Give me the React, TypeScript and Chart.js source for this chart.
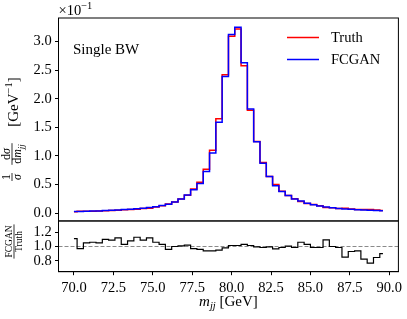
import React, { useEffect, useRef } from "react";
import { Chart, registerables } from "chart.js";
Chart.register(...registerables);

// ---- data ----
const massBins = [
  70.0, 70.4, 70.8, 71.2, 71.6, 72.0, 72.4, 72.8, 73.2, 73.6,
  74.0, 74.4, 74.8, 75.2, 75.6, 76.0, 76.4, 76.8, 77.2, 77.6,
  78.0, 78.4, 78.8, 79.2, 79.6, 80.0, 80.4, 80.8, 81.2, 81.6,
  82.0, 82.4, 82.8, 83.2, 83.6, 84.0, 84.4, 84.8, 85.2, 85.6,
  86.0, 86.4, 86.8, 87.2, 87.6, 88.0, 88.4, 88.8, 89.2, 89.6,
];
// values in units of 1e-1 GeV^-1
const truthDensity = [
  0.027, 0.033, 0.033, 0.036, 0.039, 0.042, 0.047, 0.051, 0.061, 0.065,
  0.071, 0.081, 0.088, 0.108, 0.129, 0.161, 0.195, 0.248, 0.314, 0.423,
  0.542, 0.770, 1.100, 1.650, 2.420, 3.090, 3.220, 2.575, 1.800, 1.255,
  0.886, 0.643, 0.500, 0.385, 0.308, 0.254, 0.203, 0.170, 0.152, 0.130,
  0.101, 0.095, 0.083, 0.085, 0.073, 0.066, 0.067, 0.065, 0.056, 0.049,
];
const fcganDensity = [
  0.030, 0.032, 0.035, 0.038, 0.041, 0.046, 0.051, 0.057, 0.063, 0.070,
  0.080, 0.088, 0.099, 0.115, 0.133, 0.155, 0.195, 0.250, 0.320, 0.410,
  0.520, 0.730, 1.050, 1.590, 2.390, 3.120, 3.250, 2.630, 1.820, 1.250,
  0.874, 0.640, 0.480, 0.380, 0.310, 0.250, 0.215, 0.175, 0.150, 0.128,
  0.110, 0.095, 0.082, 0.072, 0.068, 0.062, 0.055, 0.050, 0.047, 0.044,
];
const ratioValues = [
  1.11, 0.97, 1.05, 1.06, 1.05, 1.10, 1.09, 1.12, 1.03, 1.08,
  1.13, 1.09, 1.12, 1.06, 1.03, 0.96, 1.00, 1.01, 1.02, 0.97,
  0.96, 0.94, 0.94, 0.95, 0.98, 1.014, 1.014, 1.03, 1.014, 0.995,
  0.986, 0.995, 0.967, 0.986, 1.005, 0.986, 1.06, 1.03, 0.986, 0.986,
  1.093, 1.0, 0.986, 0.85, 0.93, 0.94, 0.823, 0.767, 0.846, 0.90,
];
const densityTicks = [0, 0.5, 1.0, 1.5, 2.0, 2.5, 3.0];
const ratioTicks = [0.8, 1.0, 1.2];
const massTicks = [70, 72.5, 75, 77.5, 80, 82.5, 85, 87.5, 90];
const legendLabels = ["Truth", "FCGAN"];
const seriesColors = ["#ff0000", "#0000ff"];
const panelText = "Single BW";

const X_MIN = 69.02;
const X_MAX = 90.58;
const W = 407;
const H = 319;
const SERIF = '"Liberation Serif", "DejaVu Serif", serif';
const TICK_FONT = 14.5;

type Run = { t: string; size: number; italic?: boolean; dy?: number };

function runFont(r: Run) {
  return `${r.italic ? "italic " : ""}${r.size}px ${SERIF}`;
}
function measureRuns(ctx: CanvasRenderingContext2D, runs: Run[]) {
  let w = 0;
  for (const r of runs) {
    ctx.font = runFont(r);
    w += ctx.measureText(r.t).width;
  }
  return w;
}
function drawRuns(ctx: CanvasRenderingContext2D, runs: Run[], x: number, y: number) {
  let cx = x;
  for (const r of runs) {
    ctx.font = runFont(r);
    ctx.fillText(r.t, cx, y + (r.dy || 0));
    cx += ctx.measureText(r.t).width;
  }
  return cx - x;
}
function drawFraction(
  ctx: CanvasRenderingContext2D,
  num: Run[],
  den: Run[],
  cx: number,
  barY: number,
  numGap: number,
  denGap: number
) {
  const wn = measureRuns(ctx, num);
  const wd = measureRuns(ctx, den);
  const w = Math.max(wn, wd) + 2;
  drawRuns(ctx, num, cx - wn / 2, barY - numGap);
  drawRuns(ctx, den, cx - wd / 2, barY + denGap);
  ctx.fillRect(cx - w / 2, barY - 0.4, w, 0.8);
}

const decorPlugin = {
  id: "decor",
  afterDraw(chart: any) {
    const ctx: CanvasRenderingContext2D = chart.ctx;
    const { left, right } = chart.chartArea;
    const yh = chart.scales.yh;
    const yr = chart.scales.yr;
    ctx.save();
    ctx.strokeStyle = "#000";
    ctx.lineWidth = 1;
    ctx.strokeRect(left, yh.top, right - left, yh.bottom - yh.top);
    ctx.strokeRect(left, yr.top, right - left, yr.bottom - yr.top);

    ctx.fillStyle = "#000";
    ctx.textAlign = "left";
    ctx.textBaseline = "alphabetic";

    // offset text
    drawRuns(ctx, [{ t: "×10", size: 14.5 }, { t: "−1", size: 10.5, dy: -6 }], left, 15);

    // panel text
    ctx.font = `15px ${SERIF}`;
    ctx.fillText(panelText, 73, 54);

    // legend
    const legY = [37.5, 59.5];
    for (let i = 0; i < 2; i++) {
      ctx.strokeStyle = seriesColors[i];
      ctx.lineWidth = 1.5;
      ctx.beginPath();
      ctx.moveTo(287, legY[i]);
      ctx.lineTo(319, legY[i]);
      ctx.stroke();
      ctx.font = `14.5px ${SERIF}`;
      ctx.textBaseline = "middle";
      ctx.fillText(legendLabels[i], 331, legY[i] + 0.5);
    }
    ctx.textBaseline = "alphabetic";

    // x title
    const xRuns: Run[] = [
      { t: "m", size: 15, italic: true },
      { t: "jj", size: 10.5, italic: true, dy: 3 },
      { t: " [GeV]", size: 15 },
    ];
    const xw = measureRuns(ctx, xRuns);
    drawRuns(ctx, xRuns, (left + right) / 2 - xw / 2, 306);

    // y title (top panel), rotated
    ctx.save();
    ctx.translate(12, 0);
    ctx.rotate(-Math.PI / 2);
    // (x', y') -> screen (12 + y', -x')
    drawFraction(ctx, [{ t: "1", size: 12 }], [{ t: "σ", size: 12, italic: true }], -177, 0, 2.5, 9);
    drawFraction(
      ctx,
      [{ t: "d", size: 12 }, { t: "σ", size: 12, italic: true }],
      [{ t: "d", size: 12 }, { t: "m", size: 12, italic: true }, { t: "jj", size: 9, italic: true, dy: 2.5 }],
      -154,
      0,
      2.5,
      9
    );
    const gRuns: Run[] = [
      { t: "[GeV", size: 15 },
      { t: "−1", size: 10.5, dy: -6 },
      { t: "]", size: 15 },
    ];
    const gw = measureRuns(ctx, gRuns);
    drawRuns(ctx, gRuns, -102 - gw / 2, 5.5);
    ctx.restore();

    // y title (ratio panel)
    ctx.save();
    ctx.translate(14, 0);
    ctx.rotate(-Math.PI / 2);
    drawFraction(ctx, [{ t: "FCGAN", size: 9.5 }], [{ t: "Truth", size: 9.5 }], -241.5, 0, 2, 8);
    ctx.restore();

    ctx.restore();
  },
};

const tickCommon = (size: number) => ({
  color: "#000",
  font: { family: SERIF, size },
  autoSkip: false,
});

export default function App() {
  const ref = useRef<HTMLCanvasElement | null>(null);
  useEffect(() => {
    if (!ref.current) return;
    const pts = (ys: number[]) => massBins.map((x, i) => ({ x, y: ys[i] }));
    const chart = new Chart(ref.current, {
      type: "line",
      data: {
        datasets: [
          {
            label: legendLabels[1],
            data: pts(fcganDensity),
            yAxisID: "yh",
            borderColor: seriesColors[1],
            borderWidth: 1.5,
            stepped: "middle",
            pointRadius: 0,
            fill: false,
            order: 0,
          },
          {
            label: legendLabels[0],
            data: pts(truthDensity),
            yAxisID: "yh",
            borderColor: seriesColors[0],
            borderWidth: 1.5,
            stepped: "middle",
            pointRadius: 0,
            fill: false,
            order: 1,
          },
          {
            label: "ratio",
            data: pts(ratioValues),
            yAxisID: "yr",
            borderColor: "#000",
            borderWidth: 1.2,
            stepped: "middle",
            pointRadius: 0,
            fill: false,
            order: 2,
          },
          {
            label: "unity",
            data: [
              { x: X_MIN, y: 1 },
              { x: X_MAX, y: 1 },
            ],
            yAxisID: "yr",
            borderColor: "#8a8a8a",
            borderWidth: 1,
            borderDash: [4, 2],
            pointRadius: 0,
            fill: false,
            order: 3,
          },
        ],
      } as any,
      options: {
        responsive: false,
        animation: false,
        events: [],
        layout: { padding: { left: 0, right: 8.6, top: 18, bottom: 0 } },
        plugins: { legend: { display: false }, tooltip: { enabled: false } },
        scales: {
          x: {
            type: "linear",
            position: "bottom",
            min: X_MIN,
            max: X_MAX,
            afterBuildTicks: (s: any) => {
              s.ticks = massTicks.map((v) => ({ value: v }));
            },
            afterFit: (s: any) => {
              s.height = 47.3;
            },
            ticks: {
              ...tickCommon(TICK_FONT),
              padding: 4,
              maxRotation: 0,
              callback: (v: any) => Number(v).toFixed(1),
            },
            grid: { drawOnChartArea: false, drawTicks: true, tickLength: 3.5, color: "#000" },
            border: { display: true, color: "#000", width: 1 },
          },
          yr: {
            type: "linear",
            position: "left",
            stack: "panels",
            stackWeight: 1,
            min: 0.647,
            max: 1.358,
            afterBuildTicks: (s: any) => {
              s.ticks = ratioTicks.map((v) => ({ value: v }));
            },
            afterFit: (s: any) => {
              s.width = 58.5;
            },
            ticks: {
              ...tickCommon(TICK_FONT),
              padding: 3.3,
              callback: (v: any) => Number(v).toFixed(1),
            },
            grid: { drawOnChartArea: false, drawTicks: true, tickLength: 3.5, color: "#000" },
            border: { display: true, color: "#000", width: 1 },
          },
          yh: {
            type: "linear",
            position: "left",
            stack: "panels",
            stackWeight: 4,
            min: -0.135,
            max: 3.41,
            afterBuildTicks: (s: any) => {
              s.ticks = densityTicks.map((v) => ({ value: v }));
            },
            afterFit: (s: any) => {
              s.width = 58.5;
            },
            ticks: {
              ...tickCommon(TICK_FONT),
              padding: 3.3,
              callback: (v: any) => Number(v).toFixed(1),
            },
            grid: { drawOnChartArea: false, drawTicks: true, tickLength: 3.5, color: "#000" },
            border: { display: true, color: "#000", width: 1 },
          },
        } as any,
      },
      plugins: [decorPlugin],
    });
    return () => chart.destroy();
  }, []);
  return (
    <div style={{ position: "fixed", left: 0, top: 0, width: W, height: H, background: "#fff" }}>
      <canvas ref={ref} width={W} height={H} style={{ display: "block", width: W, height: H }} />
    </div>
  );
}
